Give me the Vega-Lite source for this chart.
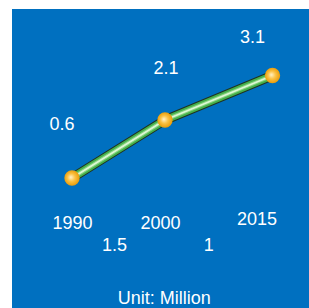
{
  "$schema": "https://vega.github.io/schema/vega-lite/v6.json",
  "width": 309,
  "height": 308,
  "autosize": {"type": "fit", "contains": "padding"},
  "padding": {"left": 12, "top": 9, "right": 0, "bottom": 0},
  "background": "white",
  "config": {
    "view": {"fill": "#0070C0", "stroke": null},
    "text": {"font": "Liberation Sans", "fontSize": 18, "color": "white"}
  },
  "datasets": {
    "population": [
      {"year": 1990, "value": 0.6},
      {"year": 2000, "value": 2.1},
      {"year": 2015, "value": 3.1}
    ],
    "increase": [
      {"from": 1990, "to": 2000, "mid": 1995, "increase": 1.5},
      {"from": 2000, "to": 2015, "mid": 2007.5, "increase": 1}
    ]
  },
  "layer": [
    {
      "data": {"name": "population"},
      "encoding": {
        "x": {
          "field": "year",
          "type": "quantitative",
          "scale": {"domain": [1990, 2000, 2015], "range": [60, 153, 260.5], "nice": false, "zero": false},
          "axis": {
            "values": [1990, 2000, 2015],
            "format": "d",
            "orient": "bottom",
            "offset": -85,
            "domain": false,
            "ticks": false,
            "tickSize": 0,
            "grid": false,
            "labelPadding": {"condition": {"test": "datum.value == 2015", "value": -3.5}, "value": 0},
            "labelOffset": {
              "condition": [
                {"test": "datum.value == 2000", "value": -5},
                {"test": "datum.value == 2015", "value": -16}
              ],
              "value": 0
            },
            "labelBaseline": "middle",
            "labelFont": "Liberation Sans",
            "labelFontSize": 18,
            "labelColor": "white",
            "labelFlush": false,
            "labelOverlap": false,
            "title": "Unit: Million",
            "titleFont": "Liberation Sans",
            "titleFontSize": 18,
            "titleFontWeight": "normal",
            "titleColor": "white",
            "titleX": 151.7,
            "titleY": 66,
            "titleBaseline": "top",
            "titleAlign": "center"
          }
        },
        "y": {
          "field": "value",
          "type": "quantitative",
          "scale": {"domain": [0.6, 2.1, 3.1], "range": [169, 111, 66.5], "nice": false, "zero": false},
          "axis": null
        }
      },
      "layer": [
        {"mark": {"type": "line", "stroke": "#1f3322", "strokeWidth": 9.5, "strokeCap": "butt"}},
        {"mark": {"type": "line", "stroke": "#45B04B", "strokeWidth": 7.5, "strokeCap": "butt"}},
        {"mark": {"type": "line", "stroke": "#86D37F", "strokeWidth": 4, "strokeCap": "butt"}},
        {"mark": {"type": "line", "stroke": "#DDF7D6", "strokeWidth": 1.8, "strokeCap": "butt"}},
        {
          "mark": {
            "type": "circle",
            "size": 235,
            "opacity": 1,
            "fill": {
              "gradient": "radial",
              "x1": 0.42, "y1": 0.45, "r1": 0,
              "x2": 0.5, "y2": 0.5, "r2": 0.55,
              "stops": [
                {"offset": 0, "color": "#FFF3CC"},
                {"offset": 0.45, "color": "#FCC244"},
                {"offset": 1, "color": "#E59500"}
              ]
            }
          }
        },
        {
          "mark": {
            "type": "text",
            "baseline": "middle",
            "align": "center",
            "dx": {"expr": "datum.year == 1990 ? -10 : datum.year == 2000 ? 1 : -20"},
            "dy": {"expr": "datum.year == 1990 ? -53 : datum.year == 2000 ? -51 : -38"}
          },
          "encoding": {"text": {"field": "value", "type": "quantitative", "format": ".1f"}}
        }
      ]
    },
    {
      "data": {"name": "increase"},
      "mark": {
        "type": "text",
        "baseline": "middle",
        "align": "center",
        "dx": {"expr": "datum.mid == 1995 ? -4 : -10"},
        "dy": 68.3
      },
      "encoding": {
        "x": {"field": "mid", "type": "quantitative"},
        "y": {"datum": 0.6},
        "text": {"field": "increase", "type": "quantitative"}
      }
    }
  ]
}
